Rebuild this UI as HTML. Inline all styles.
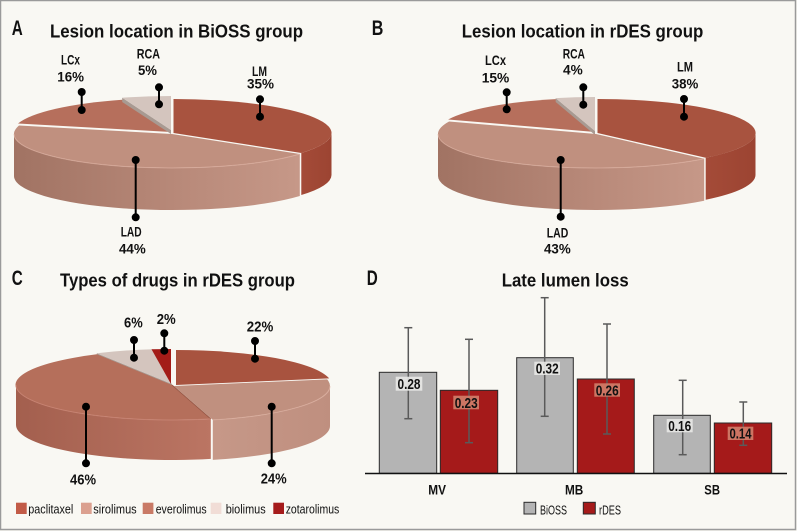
<!DOCTYPE html>
<html>
<head>
<meta charset="utf-8">
<style>
html,body{margin:0;padding:0;background:#f9f8f3;}
svg{display:block;}
text{font-family:"Liberation Sans Narrow","Liberation Sans",sans-serif;fill:#111;}
.b{font-weight:bold;}
</style>
</head>
<body>
<svg width="797" height="531" viewBox="0 0 797 531" xmlns="http://www.w3.org/2000/svg">
<defs>
  <linearGradient id="ladSide" x1="0" y1="0" x2="1" y2="0">
    <stop offset="0" stop-color="#a17363"/>
    <stop offset="0.6" stop-color="#b98a7a"/>
    <stop offset="1" stop-color="#c69888"/>
  </linearGradient>
  <linearGradient id="lmSide" x1="0" y1="0" x2="1" y2="0">
    <stop offset="0" stop-color="#a44b38"/>
    <stop offset="1" stop-color="#9c4432"/>
  </linearGradient>
  <linearGradient id="everSide" x1="0" y1="0" x2="1" y2="0">
    <stop offset="0" stop-color="#a35f4e"/>
    <stop offset="1" stop-color="#bb7563"/>
  </linearGradient>
  <linearGradient id="siroSide" x1="0" y1="0" x2="1" y2="0">
    <stop offset="0" stop-color="#c69888"/>
    <stop offset="1" stop-color="#bf8f7f"/>
  </linearGradient>
</defs>

<rect x="0.5" y="0.5" width="795" height="529" fill="#f9f8f3" stroke="#9a9a9a" stroke-width="1.5"/>

<!-- ===== Pie A ===== -->
<g>
  <path transform="translate(1.5,0)" d="M330,133 A158,34 0 0 1 299.8,153 L299.8,195 A158,34 0 0 0 330,175 Z" fill="url(#lmSide)"/>
  <path transform="translate(0,1)" d="M299.8,153 A158,34 0 0 1 14,133 L14,175 A158,34 0 0 0 299.8,195 Z" fill="url(#ladSide)"/>
  <path transform="translate(-1,-1)" d="M172,133 L19,124.5 A158,34 0 0 1 123.2,100.7 Z" fill="#b66f5c"/>
  <path transform="translate(-1,-3)" d="M172,133 L123.2,100.7 L123.2,105 L172,137 Z" fill="#a89a92"/>
  <path transform="translate(-1,-3)" d="M172,133 L123.2,100.7 A158,34 0 0 1 172,99 Z" fill="#d4c5be"/>
  <path transform="translate(1.5,0)" d="M172,133 L172,99 A158,34 0 0 1 299.8,153 Z" fill="#a8533f"/>
  <path transform="translate(0,1)" d="M172,133 L299.8,153 A158,34 0 0 1 19,124.5 Z" fill="#c0907f"/>
  <path transform="translate(0,1)" d="M299.8,153 A158,34 0 0 1 14,133" fill="none" stroke="#e2b8a8" stroke-width="1" opacity="0.6"/>
</g>

<!-- ===== Pie B ===== -->
<g>
  <path transform="translate(1.5,0)" d="M754,133 A158,34 0 0 1 704.2,157.8 L704.2,199.8 A158,34 0 0 0 754,175 Z" fill="url(#lmSide)"/>
  <path transform="translate(0,1)" d="M704.2,157.8 A158,34 0 0 1 438,133 L438,175 A158,34 0 0 0 704.2,199.8 Z" fill="url(#ladSide)"/>
  <path transform="translate(-1,-1)" d="M596,133 L449.1,120.5 A158,34 0 0 1 556.7,100.1 Z" fill="#b66f5c"/>
  <path transform="translate(-1,-2)" d="M596,133 L556.7,100.1 L556.7,104 L596,137 Z" fill="#a89a92"/>
  <path transform="translate(-1,-2)" d="M596,133 L556.7,100.1 A158,34 0 0 1 596,99 Z" fill="#d4c5be"/>
  <path transform="translate(1.5,0)" d="M596,133 L596,99 A158,34 0 0 1 704.2,157.8 Z" fill="#a8533f"/>
  <path transform="translate(0,1)" d="M596,133 L704.2,157.8 A158,34 0 0 1 449.1,120.5 Z" fill="#c0907f"/>
  <path transform="translate(0,1)" d="M704.2,157.8 A158,34 0 0 1 438,133" fill="none" stroke="#e2b8a8" stroke-width="1" opacity="0.6"/>
</g>

<!-- ===== Pie C ===== -->
<g>
  <path transform="translate(1,1)" d="M329,385 A156,35 0 0 1 211.8,418.9 L211.8,458.9 A156,35 0 0 0 329,425 Z" fill="url(#siroSide)"/>
  <path transform="translate(-1,0)" d="M211.8,418.9 A156,35 0 0 1 17,385 L17,425 A156,35 0 0 0 211.8,458.9 Z" fill="url(#everSide)"/>
  <path transform="translate(3,0)" d="M173,385 L173,350 A156,35 0 0 1 326.2,378.4 Z" fill="#a8533f"/>
  <path transform="translate(1,1)" d="M173,385 L326.2,378.4 A156,35 0 0 1 211.8,418.9 Z" fill="#c0907f"/>
  <path transform="translate(-1,-1)" d="M173,385 L97.8,354.3 L97.8,358 L173,389 Z" fill="#a89a92"/>
  <path transform="translate(-1,-1)" d="M173,385 L97.8,354.3 A156,35 0 0 1 153.5,350.3 Z" fill="#d4c5be"/>
  <path transform="translate(-2,-1)" d="M173,385 L153.5,350.3 A156,35 0 0 1 173,350 Z" fill="#a31c18"/>
  <path transform="translate(-1,0)" d="M173,385 L211.8,418.9 A156,35 0 0 1 97.8,354.3 Z" fill="#b56f5b"/>
  <path transform="translate(-1,0)" d="M173,385 L211.8,418.9" fill="none" stroke="#9a5a48" stroke-width="1"/>
  <path transform="translate(1,1)" d="M329,385 A156,35 0 0 1 211.8,418.9" fill="none" stroke="#e2b8a8" stroke-width="1" opacity="0.6"/>
  <path transform="translate(-1,0)" d="M211.8,418.9 A156,35 0 0 1 17,385" fill="none" stroke="#d29080" stroke-width="1" opacity="0.6"/>
</g>

<!-- leader lines -->
<g stroke="#000" stroke-width="2" fill="#000">
  <line x1="81.7" y1="92" x2="81.7" y2="110"/><circle cx="81.7" cy="92" r="3"/><circle cx="81.7" cy="110" r="3"/>
  <line x1="159" y1="87.3" x2="159" y2="104.3"/><circle cx="159" cy="87.3" r="3"/><circle cx="159" cy="104.3" r="3"/>
  <line x1="260" y1="99.3" x2="260" y2="116.7"/><circle cx="260" cy="99.3" r="3"/><circle cx="260" cy="116.7" r="3"/>
  <line x1="135.7" y1="160" x2="135.7" y2="217.3"/><circle cx="135.7" cy="160" r="3"/><circle cx="135.7" cy="217.3" r="3"/>

  <line x1="506.7" y1="92.3" x2="506.7" y2="109.3"/><circle cx="506.7" cy="92.3" r="3"/><circle cx="506.7" cy="109.3" r="3"/>
  <line x1="583.3" y1="87.3" x2="583.3" y2="104.7"/><circle cx="583.3" cy="87.3" r="3"/><circle cx="583.3" cy="104.7" r="3"/>
  <line x1="684" y1="99" x2="684" y2="116.7"/><circle cx="684" cy="99" r="3"/><circle cx="684" cy="116.7" r="3"/>
  <line x1="560.7" y1="160" x2="560.7" y2="216.7"/><circle cx="560.7" cy="160" r="3"/><circle cx="560.7" cy="216.7" r="3"/>

  <line x1="134" y1="340" x2="134" y2="357.7"/><circle cx="134" cy="340" r="3"/><circle cx="134" cy="357.7" r="3"/>
  <line x1="164.3" y1="333.3" x2="164.3" y2="350.7"/><circle cx="164.3" cy="333.3" r="3"/><circle cx="164.3" cy="350.7" r="3"/>
  <line x1="255" y1="341" x2="255" y2="358.7"/><circle cx="255" cy="341" r="3"/><circle cx="255" cy="358.7" r="3"/>
  <line x1="86" y1="406.7" x2="86" y2="463.3"/><circle cx="86" cy="406.7" r="3"/><circle cx="86" cy="463.3" r="3"/>
  <line x1="271.7" y1="406.7" x2="271.7" y2="463.3"/><circle cx="271.7" cy="406.7" r="3"/><circle cx="271.7" cy="463.3" r="3"/>
</g>

<!-- panel letters & titles -->
<g font-size="21.5">
  <text class="b" x="11.7" y="35" textLength="11" lengthAdjust="spacingAndGlyphs">A</text>
  <text class="b" x="371.7" y="35" textLength="11.6" lengthAdjust="spacingAndGlyphs">B</text>
  <text class="b" x="11.7" y="285" textLength="11" lengthAdjust="spacingAndGlyphs">C</text>
  <text class="b" x="366.7" y="285" textLength="11" lengthAdjust="spacingAndGlyphs">D</text>
</g>
<g font-size="18.5">
  <text class="b" x="50" y="37.7" textLength="253" lengthAdjust="spacingAndGlyphs">Lesion location in BiOSS group</text>
  <text class="b" x="461.7" y="37.7" textLength="241.6" lengthAdjust="spacingAndGlyphs">Lesion location in rDES group</text>
  <text class="b" x="60" y="286.7" textLength="235" lengthAdjust="spacingAndGlyphs">Types of drugs in rDES group</text>
  <text class="b" x="501.7" y="286.7" textLength="127" lengthAdjust="spacingAndGlyphs">Late lumen loss</text>
</g>

<!-- pie labels -->
<g font-size="14">
  <text class="b" x="61" y="64.3" textLength="19" lengthAdjust="spacingAndGlyphs">LCx</text>
  <text class="b" x="57.3" y="81.7" textLength="26.7" lengthAdjust="spacingAndGlyphs">16%</text>
  <text class="b" x="136.7" y="58.3" textLength="23.3" lengthAdjust="spacingAndGlyphs">RCA</text>
  <text class="b" x="138" y="75" textLength="19" lengthAdjust="spacingAndGlyphs">5%</text>
  <text class="b" x="252" y="76" textLength="15" lengthAdjust="spacingAndGlyphs">LM</text>
  <text class="b" x="247" y="88.3" textLength="27" lengthAdjust="spacingAndGlyphs">35%</text>
  <text class="b" x="120.7" y="236.7" textLength="21" lengthAdjust="spacingAndGlyphs">LAD</text>
  <text class="b" x="119" y="253.3" textLength="26.7" lengthAdjust="spacingAndGlyphs">44%</text>

  <text class="b" x="485" y="65" textLength="21" lengthAdjust="spacingAndGlyphs">LCx</text>
  <text class="b" x="481.7" y="82.7" textLength="27.6" lengthAdjust="spacingAndGlyphs">15%</text>
  <text class="b" x="562.7" y="58.7" textLength="22.3" lengthAdjust="spacingAndGlyphs">RCA</text>
  <text class="b" x="563" y="74.3" textLength="19.7" lengthAdjust="spacingAndGlyphs">4%</text>
  <text class="b" x="677" y="71.7" textLength="16" lengthAdjust="spacingAndGlyphs">LM</text>
  <text class="b" x="671.7" y="88.3" textLength="26.6" lengthAdjust="spacingAndGlyphs">38%</text>
  <text class="b" x="546.7" y="237.3" textLength="21.6" lengthAdjust="spacingAndGlyphs">LAD</text>
  <text class="b" x="544" y="253.3" textLength="26.7" lengthAdjust="spacingAndGlyphs">43%</text>
</g>
<g font-size="14.5">
  <text class="b" x="124" y="327.7" textLength="18.7" lengthAdjust="spacingAndGlyphs">6%</text>
  <text class="b" x="156.7" y="324" textLength="19" lengthAdjust="spacingAndGlyphs">2%</text>
  <text class="b" x="246.7" y="331.7" textLength="26.6" lengthAdjust="spacingAndGlyphs">22%</text>
  <text class="b" x="70" y="484.3" textLength="26" lengthAdjust="spacingAndGlyphs">46%</text>
  <text class="b" x="260.7" y="483.3" textLength="26" lengthAdjust="spacingAndGlyphs">24%</text>
</g>

<!-- legend C -->
<g font-size="13">
  <rect x="16" y="502.7" width="10.7" height="11.3" fill="#c25b47"/>
  <text x="28.3" y="513.5" textLength="45" lengthAdjust="spacingAndGlyphs">paclitaxel</text>
  <rect x="81" y="502.7" width="10.7" height="11.3" fill="#dba08f"/>
  <text x="93.3" y="513.5" textLength="43.4" lengthAdjust="spacingAndGlyphs">sirolimus</text>
  <rect x="142.7" y="502.7" width="10.7" height="11.3" fill="#c97a66"/>
  <text x="155.7" y="513.5" textLength="51" lengthAdjust="spacingAndGlyphs">everolimus</text>
  <rect x="210.7" y="502.7" width="10.7" height="11.3" fill="#f1ddd6"/>
  <text x="225.7" y="513.5" textLength="40" lengthAdjust="spacingAndGlyphs">biolimus</text>
  <rect x="273.3" y="502.7" width="10.7" height="11.3" fill="#a51b1b"/>
  <text x="285.7" y="513.5" textLength="53.6" lengthAdjust="spacingAndGlyphs">zotarolimus</text>
</g>

<!-- ===== Bar chart D ===== -->
<g stroke="#2a2a2a" stroke-width="1">
  <rect x="379.3" y="372.3" width="57.4" height="101" fill="#b4b4b4"/>
  <rect x="440.3" y="390.3" width="57.4" height="83" fill="#a51a1a"/>
  <rect x="516.7" y="357.7" width="56.6" height="115.6" fill="#b4b4b4"/>
  <rect x="577.3" y="379" width="57" height="94.3" fill="#a51a1a"/>
  <rect x="653.7" y="415.3" width="56.6" height="58" fill="#b4b4b4"/>
  <rect x="714.3" y="423" width="57.4" height="50.3" fill="#a51a1a"/>
</g>
<line x1="365" y1="473.5" x2="787" y2="473.5" stroke="#111" stroke-width="1.5"/>

<!-- error bars -->
<g stroke="#5a5a5a" stroke-width="1.5">
  <line x1="408.3" y1="327.7" x2="408.3" y2="418.7"/><line x1="404.3" y1="327.7" x2="412.3" y2="327.7"/><line x1="404.3" y1="418.7" x2="412.3" y2="418.7"/>
  <line x1="469" y1="339.3" x2="469" y2="442.7"/><line x1="465" y1="339.3" x2="473" y2="339.3"/><line x1="465" y1="442.7" x2="473" y2="442.7"/>
  <line x1="544.7" y1="297.7" x2="544.7" y2="416.3"/><line x1="540.7" y1="297.7" x2="548.7" y2="297.7"/><line x1="540.7" y1="416.3" x2="548.7" y2="416.3"/>
  <line x1="607" y1="324" x2="607" y2="434"/><line x1="603" y1="324" x2="611" y2="324"/><line x1="603" y1="434" x2="611" y2="434"/>
  <line x1="682.7" y1="380.3" x2="682.7" y2="454.7"/><line x1="678.7" y1="380.3" x2="686.7" y2="380.3"/><line x1="678.7" y1="454.7" x2="686.7" y2="454.7"/>
  <line x1="743.3" y1="402" x2="743.3" y2="445.3"/><line x1="739.3" y1="402" x2="747.3" y2="402"/><line x1="739.3" y1="445.3" x2="747.3" y2="445.3"/>
</g>

<!-- value labels -->
<g>
  <rect x="395.7" y="376.7" width="26.6" height="14" fill="#e8e8e6" opacity="0.9"/>
  <rect x="453.3" y="395.7" width="25.7" height="13.6" fill="#cf7a67" opacity="0.95"/>
  <rect x="534.3" y="361.7" width="25.7" height="13.3" fill="#e8e8e6" opacity="0.9"/>
  <rect x="594.3" y="383.3" width="25.7" height="13.4" fill="#cf7a67" opacity="0.95"/>
  <rect x="666.7" y="419" width="26" height="13.3" fill="#e8e8e6" opacity="0.9"/>
  <rect x="727.7" y="426.7" width="25.6" height="13.3" fill="#cf7a67" opacity="0.95"/>
</g>
<g font-size="15" text-anchor="middle">
  <text class="b" x="409" y="389" textLength="23" lengthAdjust="spacingAndGlyphs">0.28</text>
  <text class="b" x="466.2" y="407.8" textLength="23" lengthAdjust="spacingAndGlyphs">0.23</text>
  <text class="b" x="547.2" y="373.6" textLength="23" lengthAdjust="spacingAndGlyphs">0.32</text>
  <text class="b" x="607.2" y="395.3" textLength="23" lengthAdjust="spacingAndGlyphs">0.26</text>
  <text class="b" x="679.7" y="431" textLength="23" lengthAdjust="spacingAndGlyphs">0.16</text>
  <text class="b" x="740.5" y="438.7" textLength="22" lengthAdjust="spacingAndGlyphs">0.14</text>
</g>

<!-- categories -->
<g font-size="14">
  <text class="b" x="428.3" y="494.3" textLength="17.7" lengthAdjust="spacingAndGlyphs">MV</text>
  <text class="b" x="565" y="494.3" textLength="18.3" lengthAdjust="spacingAndGlyphs">MB</text>
  <text class="b" x="704.3" y="494.3" textLength="15.7" lengthAdjust="spacingAndGlyphs">SB</text>
</g>

<!-- legend D -->
<g font-size="13">
  <rect x="524" y="502.3" width="11.7" height="11.7" fill="#b4b4b4" stroke="#2a2a2a" stroke-width="1"/>
  <text x="540" y="514.5" textLength="27" lengthAdjust="spacingAndGlyphs">BiOSS</text>
  <rect x="583.3" y="502.3" width="12" height="11.7" fill="#a51a1a" stroke="#2a2a2a" stroke-width="1"/>
  <text x="599" y="514.5" textLength="22" lengthAdjust="spacingAndGlyphs">rDES</text>
</g>
</svg>
</body>
</html>
